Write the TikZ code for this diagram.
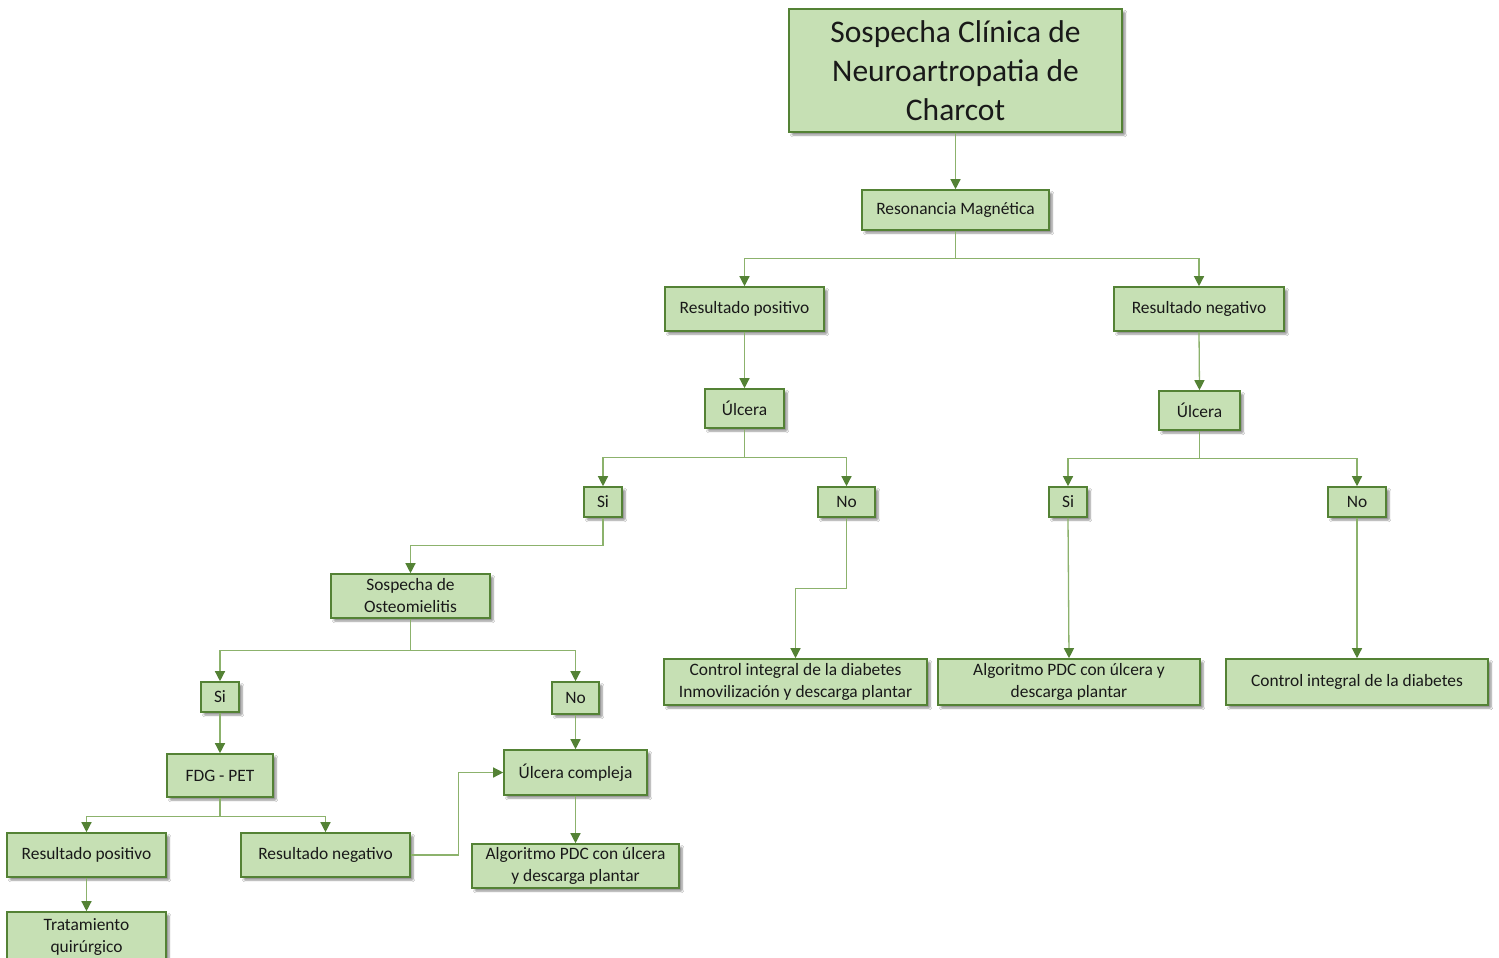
\documentclass[tikz,border=0pt]{standalone}
\usepackage{fontspec}
\setmainfont{Carlito}
\usetikzlibrary{arrows.meta,shadows.blur}

\definecolor{boxfill}{RGB}{198,224,180}
\definecolor{boxline}{RGB}{84,130,53}
\definecolor{linkline}{RGB}{140,178,108}
\definecolor{tipgreen}{RGB}{84,130,53}
\definecolor{txt}{RGB}{25,25,25}

\tikzset{
  box/.style={draw=boxline, fill=boxfill, line width=1.6pt, inner sep=0pt,
    align=center, text=txt, font=\fontsize{17.4}{22}\selectfont,
    blur shadow={shadow xshift=3pt, shadow yshift=-3pt, shadow blur steps=6,
      shadow blur extra rounding=1pt, shadow opacity=45}},
  conn/.style={draw=linkline, line width=1.3pt,
    -{Triangle[length=10pt,width=10pt,color=tipgreen]}},
}

\newcommand{\bx}[7][]{% name, x1, y1, x2, y2, text
  \node[box,#1, minimum width={(#5-#3)*1pt}, minimum height={(#6-#4)*1pt}]
    (#2) at ({(#3+#5)/2},{(#4+#6)/2}) {#7};}

\begin{document}
\begin{tikzpicture}[x=1pt,y=-1pt]
\clip (0,0) rectangle (1499,958);
\fill[white] (0,0) rectangle (1499,958);

% boxes
\bx[font=\fontsize{31.5}{39}\selectfont]{title}{789}{9}{1122}{132}{Sospecha Clínica de\\Neuroartropatia de\\Charcot}
\bx{rm}{862}{190}{1049}{230}{Resonancia Magnética}
\bx{rpos}{665}{287}{824}{331}{Resultado positivo}
\bx{rneg}{1114}{287}{1284}{331}{Resultado negativo}
\bx{ulcL}{705}{389}{784}{428}{Úlcera}
\bx{ulcR}{1159}{391}{1240}{430}{Úlcera}
\bx{siL}{584}{487}{622}{517}{Si}
\bx{noM}{818}{487}{875}{517}{No}
\bx{siR}{1049}{487}{1087}{517}{Si}
\bx{noR}{1328}{487}{1386}{517}{No}
\bx{osteo}{331}{574}{490}{618}{Sospecha de\\Osteomielitis}
\bx{siO}{201}{682}{239}{712}{Si}
\bx{noO}{552}{682}{599}{714}{No}
\bx{ctrlA}{664}{659}{927}{705}{Control integral de la diabetes\\Inmovilización y descarga plantar}
\bx{algA}{938}{659}{1200}{705}{Algoritmo PDC con úlcera y\\descarga plantar}
\bx{ctrlB}{1226}{659}{1488}{705}{Control integral de la diabetes}
\bx{fdg}{167}{754}{273}{797}{FDG - PET}
\bx{ulcC}{504}{750}{647}{795}{Úlcera compleja}
\bx{fpos}{7}{833}{166}{877}{Resultado positivo}
\bx{fneg}{241}{833}{410}{877}{Resultado negativo}
\bx{algB}{472}{844}{679}{888}{Algoritmo PDC con úlcera\\y descarga plantar}
\bx{trat}{7}{912}{166}{962}{Tratamiento\\quirúrgico}

% connectors
\draw[conn] (title.south) -- (rm.north);
\draw[conn] (rm.south) -- ++(0,28) -| (rpos.north);
\draw[conn] (rm.south) -- ++(0,28) -| (rneg.north);
\draw[conn] (rpos.south) -- (ulcL.north);
\draw[conn] (rneg.south) -- (ulcR.north);
\draw[conn] (ulcL.south) -- ++(0,29) -| (siL.north);
\draw[conn] (ulcL.south) -- ++(0,29) -| (noM.north);
\draw[conn] (ulcR.south) -- ++(0,28) -| (siR.north);
\draw[conn] (ulcR.south) -- ++(0,28) -| (noR.north);
\draw[conn] (siL.south) -- ++(0,28) -| (osteo.north);
\draw[conn] (noM.south) -- ++(0,71) -| (ctrlA.north);
\draw[conn] (siR.south) -- (algA.north);
\draw[conn] (noR.south) -- (ctrlB.north);
\draw[conn] (osteo.south) -- ++(0,32) -| (siO.north);
\draw[conn] (osteo.south) -- ++(0,32) -| (noO.north);
\draw[conn] (siO.south) -- (fdg.north);
\draw[conn] (noO.south) -- (ulcC.north);
\draw[conn] (fdg.south) -- ++(0,19) -| (fpos.north);
\draw[conn] (fdg.south) -- ++(0,19) -| (fneg.north);
\draw[conn] (fpos.south) -- (trat.north);
\draw[conn] (fneg.east) -- ++(48,0) |- (ulcC.west);
\draw[conn] (ulcC.south) -- (algB.north);
\end{tikzpicture}
\end{document}
